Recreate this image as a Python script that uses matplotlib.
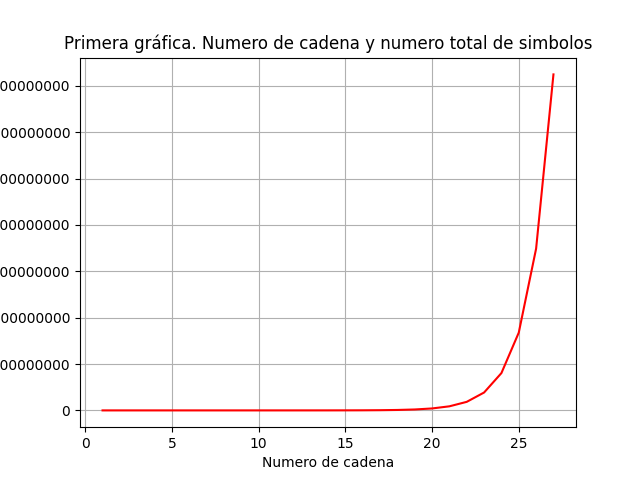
import matplotlib
matplotlib.use("Agg")
import matplotlib.pyplot as plt

cadena = list(range(1, 28))
simbolos = [4, 16, 48, 128, 320, 768, 1792, 4096, 9216, 20480, 45056, 98304,
            212992, 458752, 983040, 2097152, 4456448, 9437184, 19922944,
            41943040, 88080384, 184549376, 385875968, 805306368,
            1677721600, 3489660928, 7247757312]

fig, ax = plt.subplots(figsize=(6.4, 4.8), dpi=100)
ax.plot(cadena, simbolos, color='red')
ax.ticklabel_format(style='plain', axis='y', useOffset=False)
ax.set_title("Primera gráfica. Numero de cadena y numero total de simbolos")
ax.set_xlabel("Numero de cadena")
ax.grid(True)
fig.savefig("out.png")
